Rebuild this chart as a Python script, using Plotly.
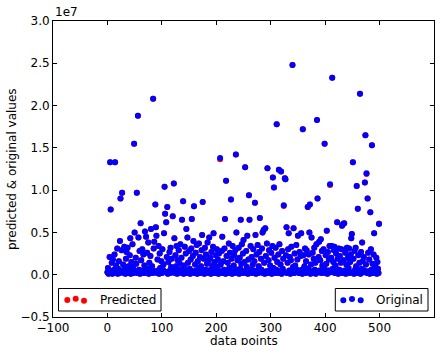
import plotly.graph_objects as go

# Values in units of 1e7 (as shown by the axis offset label)
original_1e7 = [
    0.03, 0.08, 0.01, 0.05, 0.21, 1.33, 0.77, 0.02, 0.14, 0.01,
    0.18, 0.03, 0.06, 0.24, 1.33, 0.02, 0.11, 0.04, 0.31, 0.01,
    0.07, 0.16, 0.02, 0.40, 0.90, 0.03, 0.29, 0.97, 0.05, 0.12,
    0.02, 0.33, 0.08, 0.01, 0.19, 0.27, 0.04, 0.32, 0.02, 0.10,
    0.06, 0.23, 0.43, 0.01, 0.15, 0.03, 0.36, 0.09, 0.02, 1.55,
    0.50, 0.04, 0.20, 0.13, 0.97, 0.02, 1.88, 0.44, 0.06, 0.28,
    0.01, 0.61, 0.17, 0.03, 0.30, 0.05, 0.24, 0.02, 0.11, 0.51,
    0.04, 0.45, 0.02, 0.26, 0.07, 0.38, 0.01, 0.14, 0.03, 0.22,
    0.54, 0.06, 0.10, 0.02, 2.08, 0.31, 0.39, 0.04, 0.83, 0.56,
    0.46, 0.02, 0.18, 0.05, 0.34, 0.01, 0.25, 0.08, 0.03, 0.16,
    0.02, 0.30, 0.06, 0.12, 0.49, 1.04, 0.72, 0.03, 0.62, 0.21,
    0.80, 0.01, 0.15, 0.04, 0.27, 0.02, 0.32, 0.09, 0.19, 0.03,
    0.69, 0.05, 1.08, 0.43, 0.02, 0.23, 0.10, 0.34, 0.01, 0.17,
    0.04, 0.29, 0.02, 0.13, 0.36, 0.06, 0.20, 0.65, 0.03, 0.87,
    0.01, 0.11, 0.33, 0.05, 0.25, 0.54, 0.02, 0.44, 0.14, 0.03,
    0.28, 0.07, 0.01, 0.18, 0.31, 0.66, 0.04, 0.22, 0.40, 0.81,
    0.02, 0.12, 0.26, 0.05, 0.35, 0.01, 0.16, 0.03, 0.37, 0.08,
    0.21, 0.02, 0.10, 0.29, 0.47, 0.86, 0.04, 0.19, 0.01, 0.32,
    0.06, 0.24, 0.02, 0.13, 0.38, 0.05, 0.17, 0.44, 0.03, 0.20,
    0.01, 0.27, 0.07, 0.11, 0.33, 0.49, 0.02, 0.15, 0.04, 0.23,
    0.02, 0.30, 0.09, 0.18, 0.01, 0.25, 0.04, 1.38, 0.12, 0.03,
    0.28, 0.45, 0.02, 0.16, 0.06, 0.31, 0.66, 0.01, 1.11, 0.22,
    0.05, 0.14, 0.02, 0.37, 0.08, 0.26, 0.03, 0.89, 0.19, 0.01,
    0.34, 0.04, 0.11, 0.23, 0.02, 0.29, 1.42, 0.50, 0.06, 0.17,
    0.03, 0.32, 0.01, 0.20, 0.07, 0.65, 0.13, 0.36, 0.02, 0.25,
    0.41, 0.04, 0.15, 1.27, 0.02, 0.28, 0.09, 0.46, 0.01, 0.18,
    0.94, 0.65, 0.03, 0.34, 0.06, 0.21, 0.02, 0.12, 0.30, 0.05,
    0.16, 0.85, 0.47, 0.01, 0.24, 0.04, 0.35, 0.02, 0.10, 0.27,
    0.67, 0.03, 0.19, 0.06, 0.31, 0.50, 0.02, 0.53, 0.14, 0.01,
    0.55, 0.22, 0.04, 0.37, 1.26, 0.02, 0.17, 0.29, 0.05, 0.11,
    0.03, 0.26, 0.01, 0.34, 1.15, 0.08, 1.03, 0.20, 0.02, 0.32,
    0.06, 1.78, 0.15, 0.02, 0.24, 1.24, 0.36, 0.04, 0.12, 1.22,
    0.01, 0.28, 0.07, 0.19, 0.82, 0.03, 1.14, 1.13, 0.23, 0.56,
    0.02, 0.14, 0.30, 0.49, 0.05, 0.21, 0.01, 0.17, 0.33, 0.04,
    2.48, 0.09, 0.55, 0.02, 0.25, 0.11, 0.03, 0.35, 0.06, 0.18,
    0.46, 0.03, 0.02, 0.27, 0.04, 0.22, 0.49, 0.06, 0.01, 1.72,
    0.23, 0.05, 0.10, 0.31, 0.02, 0.16, 0.29, 0.03, 0.80, 0.07,
    0.24, 0.50, 0.83, 0.01, 0.12, 0.44, 0.04, 0.26, 0.02, 0.19,
    0.32, 0.06, 0.14, 0.01, 0.36, 1.83, 0.90, 0.03, 0.21, 0.39,
    0.05, 0.17, 0.42, 0.02, 0.28, 0.11, 0.04, 0.30, 0.08, 1.55,
    0.02, 0.23, 0.13, 0.52, 0.01, 0.27, 0.05, 0.18, 0.34, 1.07,
    0.03, 0.20, 0.34, 2.33, 0.07, 0.15, 0.29, 0.33, 0.02, 0.11,
    0.25, 0.04, 0.62, 0.19, 0.01, 0.31, 0.06, 0.22, 0.03, 0.14,
    0.30, 0.58, 0.02, 0.60, 0.17, 0.61, 0.05, 0.26, 0.01, 0.12,
    0.32, 0.04, 0.20, 0.08, 0.31, 0.02, 0.15, 0.24, 0.43, 0.48,
    0.03, 1.33, 0.19, 0.01, 0.28, 0.06, 0.32, 0.10, 1.05, 0.02,
    0.78, 0.23, 0.04, 0.14, 2.14, 0.01, 0.27, 0.07, 0.38, 0.16,
    0.03, 0.21, 0.05, 1.09, 1.65, 0.12, 1.20, 0.02, 0.90, 0.26,
    0.04, 0.18, 0.01, 0.74, 0.30, 0.06, 1.53, 0.13, 0.02, 0.24,
    0.49, 0.03, 0.11, 0.05, 0.20, 0.01, 0.15, 0.07, 0.02, 0.60,
]

predicted_1e7 = [
    0.03, 0.08, 0.01, 0.05, 0.21, 1.33, 0.77, 0.02, 0.14, 0.01,
    0.18, 0.03, 0.06, 0.24, 1.33, 0.02, 0.11, 0.04, 0.31, 0.01,
    0.07, 0.16, 0.02, 0.40, 0.90, 0.03, 0.29, 0.97, 0.05, 0.12,
    0.02, 0.33, 0.08, 0.01, 0.19, 0.27, 0.04, 0.32, 0.02, 0.10,
    0.06, 0.23, 0.43, 0.01, 0.15, 0.03, 0.36, 0.09, 0.02, 1.55,
    0.50, 0.04, 0.20, 0.13, 0.97, 0.02, 1.88, 0.44, 0.06, 0.28,
    0.01, 0.61, 0.17, 0.03, 0.30, 0.05, 0.24, 0.02, 0.11, 0.51,
    0.04, 0.45, 0.02, 0.26, 0.07, 0.38, 0.01, 0.14, 0.03, 0.22,
    0.54, 0.06, 0.10, 0.02, 2.08, 0.31, 0.39, 0.04, 0.83, 0.56,
    0.46, 0.02, 0.18, 0.05, 0.34, 0.01, 0.25, 0.08, 0.03, 0.16,
    0.02, 0.30, 0.06, 0.12, 0.49, 1.04, 0.72, 0.03, 0.62, 0.21,
    0.80, 0.01, 0.15, 0.04, 0.27, 0.02, 0.32, 0.09, 0.19, 0.03,
    0.69, 0.05, 1.08, 0.43, 0.02, 0.23, 0.10, 0.34, 0.01, 0.17,
    0.04, 0.29, 0.02, 0.13, 0.36, 0.06, 0.20, 0.65, 0.03, 0.87,
    0.01, 0.11, 0.33, 0.05, 0.25, 0.54, 0.02, 0.44, 0.14, 0.03,
    0.28, 0.07, 0.01, 0.18, 0.31, 0.66, 0.04, 0.22, 0.40, 0.81,
    0.02, 0.12, 0.26, 0.05, 0.35, 0.01, 0.16, 0.03, 0.37, 0.08,
    0.21, 0.02, 0.10, 0.29, 0.47, 0.86, 0.04, 0.19, 0.01, 0.32,
    0.06, 0.24, 0.02, 0.13, 0.38, 0.05, 0.17, 0.44, 0.03, 0.20,
    0.01, 0.27, 0.07, 0.11, 0.33, 0.49, 0.02, 0.15, 0.04, 0.23,
    0.02, 0.30, 0.09, 0.18, 0.01, 0.25, 0.04, 1.365, 0.12, 0.03,
    0.28, 0.45, 0.02, 0.16, 0.06, 0.31, 0.66, 0.01, 1.11, 0.22,
    0.05, 0.14, 0.02, 0.37, 0.08, 0.26, 0.03, 0.89, 0.19, 0.01,
    0.34, 0.04, 0.11, 0.23, 0.02, 0.29, 1.42, 0.50, 0.06, 0.17,
    0.03, 0.32, 0.01, 0.20, 0.07, 0.65, 0.13, 0.36, 0.02, 0.25,
    0.41, 0.04, 0.15, 1.27, 0.02, 0.28, 0.09, 0.46, 0.01, 0.18,
    0.94, 0.65, 0.03, 0.34, 0.06, 0.21, 0.02, 0.12, 0.30, 0.05,
    0.16, 0.85, 0.47, 0.01, 0.24, 0.04, 0.35, 0.02, 0.10, 0.27,
    0.67, 0.03, 0.19, 0.06, 0.31, 0.50, 0.02, 0.53, 0.14, 0.01,
    0.55, 0.22, 0.04, 0.37, 1.26, 0.02, 0.17, 0.29, 0.05, 0.11,
    0.03, 0.26, 0.01, 0.34, 1.15, 0.08, 1.03, 0.20, 0.02, 0.32,
    0.06, 1.78, 0.15, 0.02, 0.24, 1.24, 0.36, 0.04, 0.12, 1.22,
    0.01, 0.28, 0.07, 0.19, 0.812, 0.03, 1.14, 1.13, 0.23, 0.56,
    0.02, 0.14, 0.30, 0.49, 0.05, 0.21, 0.01, 0.17, 0.33, 0.04,
    2.48, 0.09, 0.55, 0.02, 0.25, 0.11, 0.03, 0.35, 0.06, 0.18,
    0.46, 0.03, 0.02, 0.27, 0.04, 0.22, 0.49, 0.06, 0.01, 1.72,
    0.23, 0.05, 0.10, 0.31, 0.02, 0.16, 0.29, 0.03, 0.80, 0.07,
    0.24, 0.50, 0.83, 0.01, 0.12, 0.44, 0.04, 0.26, 0.02, 0.19,
    0.32, 0.06, 0.14, 0.01, 0.36, 1.83, 0.90, 0.03, 0.21, 0.39,
    0.05, 0.17, 0.42, 0.02, 0.28, 0.11, 0.04, 0.30, 0.08, 1.55,
    0.02, 0.23, 0.13, 0.52, 0.01, 0.27, 0.05, 0.18, 0.34, 1.062,
    0.03, 0.20, 0.34, 2.33, 0.07, 0.15, 0.29, 0.33, 0.02, 0.11,
    0.25, 0.04, 0.62, 0.19, 0.01, 0.31, 0.06, 0.22, 0.03, 0.14,
    0.30, 0.58, 0.02, 0.60, 0.17, 0.61, 0.05, 0.26, 0.01, 0.12,
    0.32, 0.04, 0.20, 0.08, 0.31, 0.02, 0.15, 0.24, 0.43, 0.48,
    0.03, 1.33, 0.19, 0.01, 0.28, 0.06, 0.32, 0.10, 1.05, 0.02,
    0.78, 0.23, 0.04, 0.14, 2.14, 0.01, 0.27, 0.07, 0.38, 0.16,
    0.03, 0.21, 0.05, 1.09, 1.65, 0.12, 1.19, 0.02, 0.90, 0.26,
    0.04, 0.18, 0.01, 0.74, 0.30, 0.06, 1.53, 0.13, 0.02, 0.24,
    0.49, 0.03, 0.11, 0.05, 0.20, 0.01, 0.15, 0.07, 0.02, 0.607,
]

data_points = list(range(len(original_1e7)))

x_ticks = [-100, 0, 100, 200, 300, 400, 500, 600]
y_ticks = [-0.5, 0.0, 0.5, 1.0, 1.5, 2.0, 2.5, 3.0]

FONT = "DejaVu Sans"
W, H = 445, 345
L, R, T, B = 53, 11, 21, 28
PW, PH = W - L - R, H - T - B


def px(xp):
    return (xp - L) / PW


def py(yp):
    return (H - B - yp) / PH


fig = go.Figure()
fig.add_trace(go.Scatter(
    x=data_points, y=predicted_1e7, mode="markers", name="Predicted",
    marker=dict(color="#ff0000", size=6, line=dict(width=0)),
))
fig.add_trace(go.Scatter(
    x=data_points, y=original_1e7, mode="markers", name="Original",
    marker=dict(color="#0000ff", size=6, line=dict(width=0)),
))

axis_common = dict(
    showgrid=False, zeroline=False, showline=True, linecolor="black",
    linewidth=1, mirror="ticks", ticks="inside", ticklen=4,
    tickcolor="black", tickfont=dict(family=FONT, size=12, color="black"),
    automargin=False,
)

fig.update_layout(
    width=W, height=H,
    margin=dict(l=L, r=R, t=T, b=B),
    paper_bgcolor="white", plot_bgcolor="white",
    showlegend=False,
    xaxis=dict(range=[-100, 600], tickvals=x_ticks, **axis_common),
    yaxis=dict(range=[-0.5, 3.0], tickvals=y_ticks, tickformat=".1f", **axis_common),
)

shapes = []
annotations = []

# hand-drawn legends (matplotlib style with three scatter points)
legends = [
    dict(label="Predicted", color="#ff0000", box=(58.5, 161, 288.5, 311),
         dots=[(67.3, 300.0), (75.7, 298.7), (84.0, 300.7)], text_x=98.3),
    dict(label="Original", color="#0000ff", box=(335.3, 428, 288.5, 311),
         dots=[(343.3, 300.3), (352.0, 299.0), (360.7, 300.3)], text_x=374.3),
]
for lg in legends:
    x0, x1, y0, y1 = lg["box"]
    shapes.append(dict(type="rect", xref="paper", yref="paper",
                       x0=px(x0), x1=px(x1), y0=py(y1), y1=py(y0),
                       line=dict(color="black", width=1), fillcolor="white", layer="above"))
    for dx, dy in lg["dots"]:
        shapes.append(dict(type="circle", xref="paper", yref="paper",
                           xsizemode="pixel", ysizemode="pixel",
                           xanchor=px(dx), yanchor=py(dy),
                           x0=-3, x1=3, y0=-3, y1=3,
                           line=dict(width=0), fillcolor=lg["color"], layer="above"))
    annotations.append(dict(text=lg["label"], xref="paper", yref="paper",
                            x=px(lg["text_x"]), y=py(299.5), xanchor="left", yanchor="middle",
                            showarrow=False, font=dict(family=FONT, size=12, color="black")))

annotations.append(dict(text="1e7", xref="paper", yref="paper", x=0, y=1,
                        xanchor="left", yanchor="bottom", showarrow=False,
                        font=dict(family=FONT, size=12, color="black")))
annotations.append(dict(text="data points", xref="paper", yref="paper", x=0.5, y=py(341),
                        xanchor="center", yanchor="middle", showarrow=False,
                        font=dict(family=FONT, size=12, color="black")))
annotations.append(dict(text="predicted & original values", xref="paper", yref="paper",
                        x=px(12), y=0.5, textangle=-90, xanchor="center", yanchor="middle",
                        showarrow=False, font=dict(family=FONT, size=12, color="black")))

fig.update_layout(shapes=shapes, annotations=annotations)

fig.write_html("out.html", config={"displayModeBar": False},
               post_script="document.body.style.margin='0px';")
